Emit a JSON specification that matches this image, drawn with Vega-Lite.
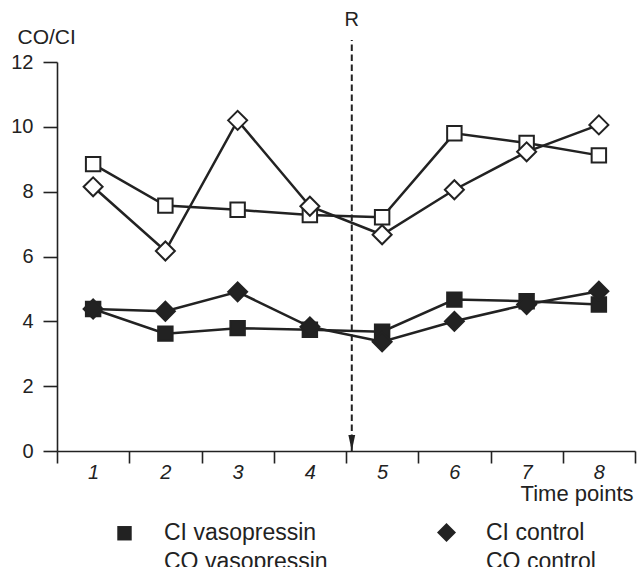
{
  "$schema": "https://vega.github.io/schema/vega-lite/v6.json",
  "width": 578,
  "height": 389,
  "autosize": "none",
  "padding": {"left": 57, "top": 62, "right": 2, "bottom": 116},
  "background": "white",
  "config": {
    "font": "Liberation Sans",
    "view": {"stroke": null},
    "axis": {"grid": false, "domainColor": "#222", "tickColor": "#222", "labelColor": "#222", "titleColor": "#222", "domainWidth": 1.6, "tickWidth": 1.6, "titleFontWeight": "normal", "labelFont": "Liberation Sans", "titleFont": "Liberation Sans"}
  },
  "datasets": {
    "series": [
      {"t": "1", "series": "CI vasopressin", "v": 4.38},
      {"t": "2", "series": "CI vasopressin", "v": 3.62},
      {"t": "3", "series": "CI vasopressin", "v": 3.79},
      {"t": "4", "series": "CI vasopressin", "v": 3.74},
      {"t": "5", "series": "CI vasopressin", "v": 3.68},
      {"t": "6", "series": "CI vasopressin", "v": 4.67},
      {"t": "7", "series": "CI vasopressin", "v": 4.62},
      {"t": "8", "series": "CI vasopressin", "v": 4.52},
      {"t": "1", "series": "CO vasopressin", "v": 8.85},
      {"t": "2", "series": "CO vasopressin", "v": 7.57},
      {"t": "3", "series": "CO vasopressin", "v": 7.44},
      {"t": "4", "series": "CO vasopressin", "v": 7.28},
      {"t": "5", "series": "CO vasopressin", "v": 7.21},
      {"t": "6", "series": "CO vasopressin", "v": 9.8},
      {"t": "7", "series": "CO vasopressin", "v": 9.5},
      {"t": "8", "series": "CO vasopressin", "v": 9.12},
      {"t": "1", "series": "CI control", "v": 4.38},
      {"t": "2", "series": "CI control", "v": 4.31},
      {"t": "3", "series": "CI control", "v": 4.91},
      {"t": "4", "series": "CI control", "v": 3.83},
      {"t": "5", "series": "CI control", "v": 3.37},
      {"t": "6", "series": "CI control", "v": 4.0},
      {"t": "7", "series": "CI control", "v": 4.52},
      {"t": "8", "series": "CI control", "v": 4.93},
      {"t": "1", "series": "CO control", "v": 8.15},
      {"t": "2", "series": "CO control", "v": 6.17},
      {"t": "3", "series": "CO control", "v": 10.2},
      {"t": "4", "series": "CO control", "v": 7.55},
      {"t": "5", "series": "CO control", "v": 6.67},
      {"t": "6", "series": "CO control", "v": 8.06},
      {"t": "7", "series": "CO control", "v": 9.23},
      {"t": "8", "series": "CO control", "v": 10.06}
    ],
    "marker": [
      {"x": 4.08, "top": 12.68, "bottom": 0, "label": "R"}
    ]
  },
  "layer": [
    {
      "data": {"name": "series"},
      "encoding": {
        "x": {"field": "t", "type": "ordinal", "scale": {"type": "band", "paddingInner": 0, "paddingOuter": 0},
          "axis": {"title": "Time points", "labelAngle": 0, "labelFontSize": 20, "labelFontStyle": "italic", "tickBand": "extent", "tickSize": 12, "labelPadding": -1, "titleFontSize": 22, "titleAnchor": "end", "titleAlign": "right", "titleX": 576, "titleY": 49, "titleBaseline": "alphabetic"}},
        "y": {"field": "v", "type": "quantitative", "scale": {"domain": [0, 12], "nice": false, "zero": true},
          "axis": {"title": "CO/CI", "values": [0, 2, 4, 6, 8, 10, 12], "labelFontSize": 20, "tickSize": 14, "labelPadding": 10, "titleFontSize": 21, "titleAngle": 0, "titleAlign": "left", "titleBaseline": "alphabetic", "titleX": -40, "titleY": -19}}
      },
      "layer": [
        {
          "mark": {"type": "line", "color": "#222", "strokeWidth": 2.5},
          "encoding": {"detail": {"field": "series"}}
        },
        {
          "mark": {"type": "point", "filled": true, "opacity": 1, "stroke": "#222", "strokeWidth": 2, "size": 361},
          "encoding": {
            "shape": {"field": "series", "type": "nominal",
              "scale": {"domain": ["CI vasopressin", "CO vasopressin", "CI control", "CO control"], "range": ["M-0.76,-0.76L0.76,-0.76L0.76,0.76L-0.76,0.76Z", "M-0.76,-0.76L0.76,-0.76L0.76,0.76L-0.76,0.76Z", "M-1,0L0,-1L1,0L0,1Z", "M-1,0L0,-1L1,0L0,1Z"]},
              "legend": {
                "title": null, "orient": "none", "legendX": 56, "legendY": 459, "columns": 2, "direction": "vertical",
                "symbolSize": 361, "labelOffset": 28, "columnPadding": 105, "rowPadding": 2,
                "labelFontSize": 23, "labelColor": "#222", "labelLimit": 300,
                "symbolStrokeWidth": 2, "symbolStrokeColor": "#222", "symbolOpacity": 1
              }},
            "fill": {"field": "series", "type": "nominal",
              "scale": {"domain": ["CI vasopressin", "CO vasopressin", "CI control", "CO control"], "range": ["#222", "white", "#222", "white"]},
              "legend": {
                "title": null, "orient": "none", "legendX": 56, "legendY": 459, "columns": 2, "direction": "vertical",
                "symbolSize": 361, "labelOffset": 28, "columnPadding": 105, "rowPadding": 2,
                "labelFontSize": 23, "labelColor": "#222", "labelLimit": 300,
                "symbolStrokeWidth": 2, "symbolStrokeColor": "#222", "symbolOpacity": 1
              }}
          }
        }
      ]
    },
    {
      "data": {"name": "marker"},
      "encoding": {
        "x": {"field": "x", "type": "quantitative", "scale": {"domain": [0, 8], "nice": false, "zero": false}, "axis": null}
      },
      "layer": [
        {
          "mark": {"type": "rule", "color": "#222", "strokeWidth": 2, "strokeDash": [6.5, 3.5], "clip": false},
          "encoding": {
            "y": {"field": "bottom", "type": "quantitative"},
            "y2": {"field": "top"}
          }
        },
        {
          "mark": {"type": "point", "filled": true, "opacity": 1, "color": "#222", "size": 64, "shape": "M-0.85,-4L0.85,-4L0,0Z", "strokeWidth": 0},
          "encoding": {
            "y": {"field": "bottom", "type": "quantitative"}
          }
        },
        {
          "mark": {"type": "text", "color": "#222", "fontSize": 20, "baseline": "alphabetic", "dy": -14, "clip": false},
          "encoding": {
            "y": {"field": "top", "type": "quantitative"},
            "text": {"field": "label"}
          }
        }
      ]
    }
  ],
  "resolve": {"scale": {"x": "independent"}}
}
